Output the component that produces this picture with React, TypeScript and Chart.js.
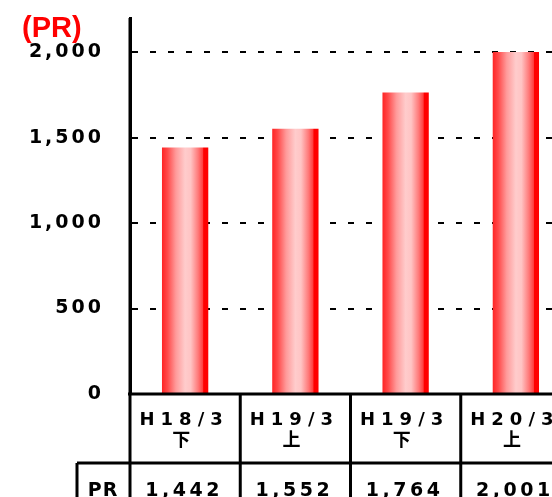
import React, { useEffect, useRef } from "react";
import { Chart, registerables } from "chart.js";

Chart.register(...registerables);

const periods = ["H18/3", "H19/3", "H19/3", "H20/3"];
const halves = ["下", "上", "下", "上"];
const categories = periods.map((p, i) => p + halves[i]);
const prValues = [1442, 1552, 1764, 2001];
const valueLabels = ["1,442", "1,552", "1,764", "2,001"];
const yTicks = [0, 500, 1000, 1500, 2000];
const seriesName = "PR";
const unitLabel = "(PR)";

const CANVAS_W = 600;
const CANVAS_H = 497;
const AXIS_BOTTOM = 394;

const tablePlugin = {
  id: "tablePlugin",
  beforeUpdate(chart: any) {
    chart.ctx.letterSpacing = "3px";
  },
  beforeDraw(chart: any) {
    chart.ctx.letterSpacing = "3px";
  },
  afterDraw(chart: any) {
    const ctx = chart.ctx as CanvasRenderingContext2D & { letterSpacing: string };
    const area = chart.chartArea;
    const n = categories.length;
    const catW = (area.right - area.left) / n;
    const H = chart.height;
    const rowY = 463;
    ctx.save();
    ctx.strokeStyle = "#000";
    ctx.lineWidth = 3;
    ctx.beginPath();
    ctx.moveTo(area.left - 2, AXIS_BOTTOM);
    ctx.lineTo(chart.width, AXIS_BOTTOM);
    ctx.moveTo(77, rowY);
    ctx.lineTo(chart.width, rowY);
    ctx.moveTo(77, rowY);
    ctx.lineTo(77, H);
    for (let i = 0; i <= n; i++) {
      const x = area.left + i * catW;
      ctx.moveTo(x, i === 0 ? area.top : AXIS_BOTTOM);
      ctx.lineTo(x, H);
    }
    ctx.stroke();

    ctx.fillStyle = "#000";
    ctx.textAlign = "center";
    ctx.textBaseline = "alphabetic";
    for (let i = 0; i < n; i++) {
      const cx = area.left + (i + 0.5) * catW;
      ctx.letterSpacing = "6px";
      ctx.font = 'bold 18px "DejaVu Sans"';
      ctx.fillText(periods[i], cx - 1, 425);
      ctx.letterSpacing = "0px";
      ctx.font = 'bold 18px "Noto Sans CJK JP"';
      ctx.fillText(halves[i], cx - 4, 446);
      ctx.letterSpacing = "3.5px";
      ctx.font = 'bold 19px "DejaVu Sans"';
      ctx.fillText(valueLabels[i], cx - 1, 496);
    }
    ctx.letterSpacing = "1px";
    ctx.font = 'bold 19px "DejaVu Sans"';
    ctx.fillText(seriesName, 103, 496);

    ctx.letterSpacing = "0px";
    ctx.textAlign = "left";
    ctx.fillStyle = "#ff0000";
    ctx.font = 'bold 29px "Liberation Sans"';
    ctx.fillText(unitLabel, 22, 37);
    ctx.restore();
  },
};

function barGradient(context: any) {
  const chart = context.chart;
  const xs = chart.scales && chart.scales.x;
  if (context.dataIndex === undefined || !xs || !chart.chartArea) return "#ff4040";
  const area = chart.chartArea;
  const catW = (area.right - area.left) / categories.length;
  const w = catW * 0.42;
  const cx = xs.getPixelForValue(context.dataIndex);
  const g = chart.ctx.createLinearGradient(cx - w / 2, 0, cx + w / 2, 0);
  g.addColorStop(0, "#ff2424");
  g.addColorStop(0.12, "#ff4a4a");
  g.addColorStop(0.3, "#ff9a9a");
  g.addColorStop(0.5, "#ffcccc");
  g.addColorStop(0.62, "#ffc4c4");
  g.addColorStop(0.78, "#ff7a7a");
  g.addColorStop(0.88, "#ff4040");
  g.addColorStop(0.9, "#ff0000");
  g.addColorStop(1, "#ff0000");
  return g;
}

export default function App() {
  const ref = useRef<HTMLCanvasElement>(null);
  useEffect(() => {
    document.body.style.margin = "0";
    const canvas = ref.current!;
    const chart = new Chart(canvas, {
      type: "bar",
      data: {
        labels: categories,
        datasets: [
          {
            label: seriesName,
            data: prValues,
            backgroundColor: barGradient as any,
            borderWidth: 0,
            categoryPercentage: 1,
            barPercentage: 0.42,
          },
        ],
      },
      options: {
        responsive: false,
        animation: false,
        devicePixelRatio: 1,
        layout: { padding: { top: 18, bottom: CANVAS_H - AXIS_BOTTOM, left: 0, right: 29 } },
        plugins: { legend: { display: false }, tooltip: { enabled: false }, title: { display: false } },
        scales: {
          x: { display: false },
          y: {
            min: 0,
            max: 2200,
            afterBuildTicks: (axis: any) => {
              axis.ticks = yTicks.map((v) => ({ value: v }));
            },
            afterFit: (axis: any) => {
              axis.width = 130;
              axis.paddingTop = 0;
              axis.paddingBottom = 0;
            },
            ticks: {
              color: "#000",
              font: { family: "DejaVu Sans", size: 19, weight: "bold" },
              padding: 26,
              callback: (v: any) => Number(v).toLocaleString("en-US"),
            },
            grid: {
              drawTicks: false,
              color: "#000",
              lineWidth: 2,
            },
            border: { display: true, color: "#000", width: 3, dash: [6, 12] },
          },
        },
      },
      plugins: [tablePlugin],
    });
    return () => chart.destroy();
  }, []);
  return (
    <div style={{ width: 552, height: 497, overflow: "hidden", position: "relative" }}>
      <canvas ref={ref} width={CANVAS_W} height={CANVAS_H} style={{ display: "block" }} />
    </div>
  );
}
